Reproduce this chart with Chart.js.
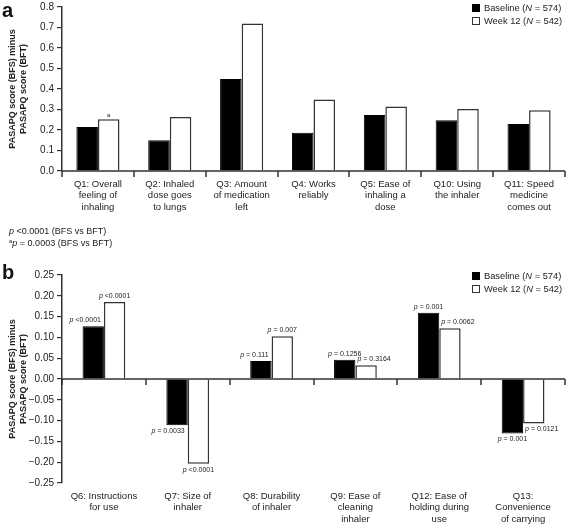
<!DOCTYPE html>
<html>
<head>
<meta charset="utf-8">
<script src="https://cdn.jsdelivr.net/npm/chart.js@4.4.1/dist/chart.umd.min.js"></script>
<style>
  html,body{margin:0;padding:0;background:#fff;}
  body{width:567px;height:525px;position:relative;overflow:hidden;font-family:"Liberation Sans",Arial,sans-serif;color:#222;}
  canvas{position:absolute;left:0;}
  #ca{top:0;}
  #cb{top:262px;}
  .plabel{position:absolute;font-weight:bold;font-size:20px;line-height:20px;color:#111;}
  .legend{position:absolute;font-size:9.3px;line-height:13px;color:#222;}
  .legend div{white-space:nowrap;}
  .sw{display:inline-block;width:8px;height:8px;box-sizing:border-box;margin-right:4px;vertical-align:-1px;}
  .sw.b{background:#000;border:1px solid #000;}
  .sw.w{background:#fff;border:1px solid #333;}
  .foot{position:absolute;left:9px;font-size:9px;line-height:12px;color:#222;}
  .foot sup{font-size:6px;vertical-align:3px;line-height:0;}
</style>
</head>
<body>
<canvas id="ca" width="567" height="215"></canvas>
<canvas id="cb" width="567" height="263"></canvas>
<div class="plabel" style="left:2px;top:0px;">a</div>
<div class="plabel" style="left:2px;top:262px;">b</div>
<div class="legend" style="left:472px;top:2px;">
  <div><span class="sw b"></span>Baseline (<i>N</i> = 574)</div>
  <div><span class="sw w"></span>Week 12 (<i>N</i> = 542)</div>
</div>
<div class="legend" style="left:472px;top:270px;">
  <div><span class="sw b"></span>Baseline (<i>N</i> = 574)</div>
  <div><span class="sw w"></span>Week 12 (<i>N</i> = 542)</div>
</div>
<div class="foot" style="top:225px;"><i>p</i> &lt;0.0001 (BFS vs BFT)<br><sup>a</sup><i>p</i> = 0.0003 (BFS vs BFT)</div>
<script>
// ---- Data ----
const categoriesA = [
  ['Q1: Overall','feeling of','inhaling'],
  ['Q2: Inhaled','dose goes','to lungs'],
  ['Q3: Amount','of medication','left'],
  ['Q4: Works','reliably'],
  ['Q5: Ease of','inhaling a','dose'],
  ['Q10: Using','the inhaler'],
  ['Q11: Speed','medicine','comes out']
];
const baselineA = [0.215, 0.150, 0.449, 0.187, 0.273, 0.247, 0.229];
const week12A   = [0.253, 0.263, 0.719, 0.349, 0.315, 0.302, 0.296];
const markA     = ['a', '', '', '', '', '', ''];

const categoriesB = [
  ['Q6: Instructions','for use'],
  ['Q7: Size of','inhaler'],
  ['Q8: Durability','of inhaler'],
  ['Q9: Ease of','cleaning','inhaler'],
  ['Q12: Ease of','holding during','use'],
  ['Q13:','Convenience','of carrying']
];
const baselineB = [0.127, -0.111, 0.043, 0.046, 0.159, -0.131];
const week12B   = [0.185, -0.204, 0.103, 0.033, 0.122, -0.107];
const pBaselineB = ['<0.0001', '= 0.0033', '= 0.111', '= 0.1256', '= 0.001', '= 0.001'];
const pWeek12B   = ['<0.0001', '<0.0001', '= 0.007', '= 0.3164', '= 0.0062', '= 0.0121'];
const pAlignBaseline = ['right', 'right', 'right', 'center', 'center', 'center'];
const pAlignWeek12   = ['center', 'center', 'center', 'left', 'left', 'left'];

const ticksA = {min: 0, max: 0.8, step: 0.1, digits: 1};
const ticksB = {min: -0.25, max: 0.25, step: 0.05, digits: 2};
const yTitle = ['PASAPQ score (BFS) minus', 'PASAPQ score (BFT)'];

// ---- Styling ----
const FONT = '"Liberation Sans", Arial, sans-serif';
const AXIS = '#333';
const TXT = '#222';

const zeroAxisPlugin = {
  id: 'zeroAxis',
  afterDatasetsDraw(chart) {
    const {ctx, chartArea: {left, right}, scales: {x, y}} = chart;
    const y0 = y.getPixelForValue(0);
    const n = chart.data.labels.length;
    ctx.save();
    ctx.strokeStyle = AXIS;
    ctx.lineWidth = 1.5;
    ctx.beginPath();
    ctx.moveTo(left, y0); ctx.lineTo(right, y0);
    for (let i = 0; i <= n; i++) {
      const px = Math.round(left + (right - left) * i / n);
      ctx.moveTo(px, y0); ctx.lineTo(px, y0 + 6);
    }
    ctx.stroke();
    ctx.restore();
  }
};

function drawP(ctx, text, x, y, align) {
  const pStr = 'p';
  const rest = ' ' + text;
  ctx.font = 'italic 7px ' + FONT;
  const wp = ctx.measureText(pStr).width;
  ctx.font = '7px ' + FONT;
  const wr = ctx.measureText(rest).width;
  const w = wp + wr;
  let sx = x;
  if (align === 'center') sx = x - w / 2;
  else if (align === 'right') sx = x - w;
  ctx.textAlign = 'left';
  ctx.textBaseline = 'middle';
  ctx.font = 'italic 7px ' + FONT;
  ctx.fillText(pStr, sx, y);
  ctx.font = '7px ' + FONT;
  ctx.fillText(rest, sx + wp, y);
}

const pLabelPlugin = {
  id: 'pLabels',
  afterDatasetsDraw(chart, args, opts) {
    if (!opts || !opts.enabled) return;
    const ctx = chart.ctx;
    ctx.save();
    ctx.fillStyle = TXT;
    const sets = [[pBaselineB, pAlignBaseline], [pWeek12B, pAlignWeek12]];
    sets.forEach(([texts, aligns], di) => {
      const meta = chart.getDatasetMeta(di);
      meta.data.forEach((bar, j) => {
        const v = chart.data.datasets[di].data[j];
        const half = bar.width / 2;
        const ty = v >= 0 ? bar.y - 6 : bar.y + 6;
        let tx = bar.x;
        const al = aligns[j];
        if (al === 'right') tx = bar.x + half - 3;
        if (al === 'left') tx = bar.x - half + 2;
        drawP(ctx, texts[j], tx, ty, al);
      });
    });
    ctx.restore();
  }
};

const markPlugin = {
  id: 'marks',
  afterDatasetsDraw(chart, args, opts) {
    if (!opts || !opts.enabled) return;
    const ctx = chart.ctx;
    const meta = chart.getDatasetMeta(1);
    ctx.save();
    ctx.fillStyle = TXT;
    ctx.font = '6px ' + FONT;
    ctx.textAlign = 'center';
    ctx.textBaseline = 'bottom';
    meta.data.forEach((bar, j) => {
      if (markA[j]) ctx.fillText(markA[j], bar.x, bar.y - 1);
    });
    ctx.restore();
  }
};

function makeChart(id, labels, base, week, tk, catPct, padTop, xHeight, isB) {
  return new Chart(document.getElementById(id), {
    type: 'bar',
    data: {
      labels: labels,
      datasets: [
        {label: 'Baseline', data: base, backgroundColor: '#000', borderColor: '#000', borderWidth: 1},
        {label: 'Week 12', data: week, backgroundColor: '#fff', borderColor: AXIS, borderWidth: 1.5}
      ]
    },
    options: {
      responsive: false,
      animation: false,
      devicePixelRatio: 1,
      layout: {padding: {top: padTop, left: 0, right: 2, bottom: 0}},
      plugins: {
        legend: {display: false},
        tooltip: {enabled: false},
        pLabels: {enabled: isB},
        marks: {enabled: !isB}
      },
      datasets: {bar: {categoryPercentage: catPct, barPercentage: 1.0}},
      scales: {
        x: {
          grid: {display: false, drawTicks: false},
          border: {display: false},
          ticks: {color: TXT, font: {family: FONT, size: 9.5, lineHeight: 1.25}, padding: 7, maxRotation: 0, autoSkip: false},
          afterFit(s) { s.height = xHeight; }
        },
        y: {
          min: tk.min, max: tk.max,
          border: {display: true, color: AXIS, width: 1.5},
          grid: {display: true, drawOnChartArea: false, drawTicks: true, tickLength: 5, color: AXIS, lineWidth: 1.2},
          ticks: {
            stepSize: tk.step, color: TXT, padding: 3,
            font: {family: FONT, size: 10, lineHeight: 0.8},
            callback: v => (v < -1e-9 ? '\u2212' : '') + Math.abs(v).toFixed(tk.digits)
          },
          title: {display: true, text: yTitle, color: TXT, font: {family: FONT, size: 9, weight: 'bold', lineHeight: 1.25}, padding: {top: 6.5, bottom: 0}},
          afterFit(s) { s.width = 62; }
        }
      }
    },
    plugins: [zeroAxisPlugin, pLabelPlugin, markPlugin]
  });
}

makeChart('ca', categoriesA, baselineA, week12A, ticksA, 0.6, 6, 44, false);
makeChart('cb', categoriesB, baselineB, week12B, ticksB, 0.51, 13, 42, true);
</script>
</body>
</html>
